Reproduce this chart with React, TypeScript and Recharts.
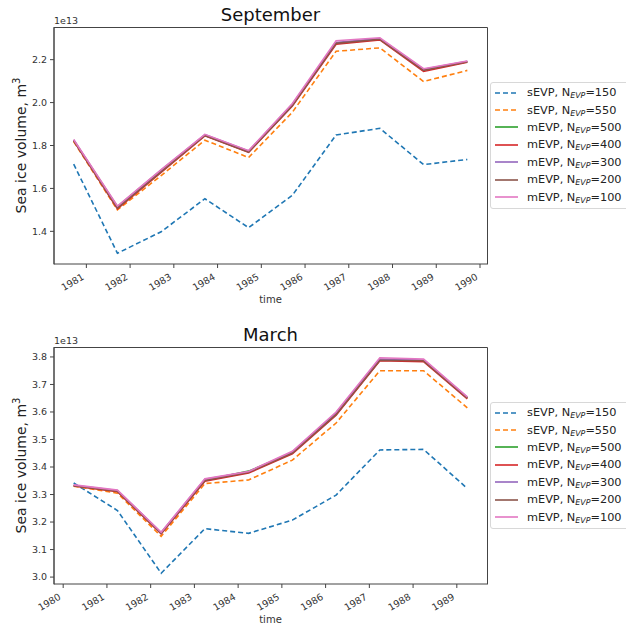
import React from "react";
import { LineChart, Line, XAxis, YAxis, Legend } from "recharts";

// time axis (decimal years) and tick labels
const sepTime = [1980.71, 1981.71, 1982.71, 1983.71, 1984.71, 1985.71, 1986.71, 1987.71, 1988.71, 1989.71];
const marTime = [1980.24, 1981.24, 1982.24, 1983.24, 1984.24, 1985.24, 1986.24, 1987.24, 1988.24, 1989.24];
const sepYearTicks = [1981, 1982, 1983, 1984, 1985, 1986, 1987, 1988, 1989, 1990];
const marYearTicks = [1980, 1981, 1982, 1983, 1984, 1985, 1986, 1987, 1988, 1989];
const sepValueTicks = [1.4, 1.6, 1.8, 2.0, 2.2];
const marValueTicks = [3.0, 3.1, 3.2, 3.3, 3.4, 3.5, 3.6, 3.7, 3.8];

// September sea ice volume, x1e13 m3
const sepS150 = [1.713, 1.298, 1.398, 1.552, 1.417, 1.568, 1.849, 1.88, 1.711, 1.735];
const sepS550 = [1.818, 1.5, 1.66, 1.825, 1.744, 1.955, 2.239, 2.255, 2.098, 2.15];
const sepM500 = [1.825, 1.515, 1.685, 1.848, 1.772, 1.99, 2.278, 2.296, 2.152, 2.19];
const sepM400 = [1.822, 1.505, 1.675, 1.845, 1.768, 1.984, 2.272, 2.292, 2.145, 2.188];
const sepM300 = [1.826, 1.512, 1.682, 1.85, 1.774, 1.992, 2.28, 2.298, 2.155, 2.192];
const sepM200 = [1.823, 1.508, 1.678, 1.847, 1.77, 1.987, 2.276, 2.295, 2.15, 2.19];
const sepM100 = [1.828, 1.518, 1.688, 1.852, 1.776, 1.996, 2.288, 2.302, 2.158, 2.194];

// March sea ice volume, x1e13 m3
const marS150 = [3.342, 3.242, 3.014, 3.176, 3.159, 3.207, 3.298, 3.462, 3.464, 3.322];
const marS550 = [3.33, 3.305, 3.148, 3.34, 3.353, 3.425, 3.56, 3.75, 3.75, 3.615];
const marM500 = [3.333, 3.313, 3.16, 3.352, 3.385, 3.452, 3.592, 3.789, 3.787, 3.651];
const marM400 = [3.331, 3.31, 3.157, 3.348, 3.378, 3.448, 3.588, 3.786, 3.783, 3.648];
const marM300 = [3.334, 3.315, 3.162, 3.356, 3.383, 3.455, 3.597, 3.792, 3.789, 3.653];
const marM200 = [3.332, 3.312, 3.159, 3.351, 3.381, 3.451, 3.591, 3.788, 3.786, 3.65];
const marM100 = [3.335, 3.316, 3.163, 3.357, 3.384, 3.457, 3.6, 3.797, 3.792, 3.655];

const seriesKeys = ["s150", "s550", "m500", "m400", "m300", "m200", "m100"];
const seriesScheme = ["sEVP", "sEVP", "mEVP", "mEVP", "mEVP", "mEVP", "mEVP"];
const seriesN = [150, 550, 500, 400, 300, 200, 100];
const seriesColors = ["#1f77b4", "#ff7f0e", "#2ca02c", "#d62728", "#9467bd", "#8c564b", "#e377c2"];
const seriesDash = ["5 3", "5 3", undefined, undefined, undefined, undefined, undefined];

const buildRows = (time: number[], cols: number[][]) =>
  time.map((t, i) => {
    const row: Record<string, number> = { t };
    seriesKeys.forEach((k, j) => (row[k] = cols[j][i]));
    return row;
  });

const sepData = buildRows(sepTime, [sepS150, sepS550, sepM500, sepM400, sepM300, sepM200, sepM100]);
const marData = buildRows(marTime, [marS150, marS550, marM500, marM400, marM300, marM200, marM100]);

const padDomain = (vals: number[], frac = 0.05): [number, number] => {
  const lo = Math.min(...vals);
  const hi = Math.max(...vals);
  const pad = (hi - lo) * frac;
  return [lo - pad, hi + pad];
};

const FONT = "'DejaVu Sans', sans-serif";
const AXIS = "#444";

const SlantTick = (props: any) => {
  const { x, y, payload } = props;
  return (
    <g transform={`translate(${x - 5},${y + 3})`}>
      <text x={0} y={0} dy="0.71em" textAnchor="end" transform="rotate(-30)" fontSize={9.5} fill="#333">
        {payload.value}
      </text>
    </g>
  );
};

// legend box runs past the right edge like the original; text itself stays inside
const LegendBox = () => (
  <div
    style={{
      border: "1px solid #d8d8d8",
      borderRadius: 3,
      background: "#fff",
      padding: "1px 0 2px 4px",
      fontFamily: FONT,
      fontSize: 11.3,
      color: "#222",
      width: 190,
    }}
  >
    {seriesKeys.map((k, i) => (
      <div key={k} style={{ display: "flex", alignItems: "center", height: 17.4 }}>
        <svg width={23} height={6}>
          <line x1={0} y1={3} x2={23} y2={3} stroke={seriesColors[i]} strokeWidth={1.6} strokeDasharray={seriesDash[i]} />
        </svg>
        <span style={{ marginLeft: 9, whiteSpace: "nowrap" }}>
          {seriesScheme[i]}, N
          <span style={{ fontStyle: "italic", fontSize: "0.7em", position: "relative", top: 2 }}>EVP</span>={seriesN[i]}
        </span>
      </div>
    ))}
  </div>
);

type PanelProps = {
  data: Record<string, number>[];
  time: number[];
  yearTicks: number[];
  valueTicks: number[];
  yDomain: [number, number];
  legendTop: number;
};

const Panel = ({ data, time, yearTicks, valueTicks, yDomain, legendTop }: PanelProps) => {
  const xDomain: [number, number] = [time[0] - 0.45, time[time.length - 1] + 0.45];
  return (
    <LineChart width={626} height={310} data={data} margin={{ top: 27, right: 139, left: 0, bottom: 0 }}>
      <XAxis
        dataKey="t"
        type="number"
        domain={xDomain}
        ticks={yearTicks}
        allowDataOverflow
        height={46}
        tick={<SlantTick />}
        tickSize={4}
        tickLine={{ stroke: AXIS }}
        axisLine={{ stroke: AXIS }}
        interval={0}
      />
      <YAxis
        type="number"
        domain={yDomain}
        ticks={valueTicks}
        allowDataOverflow
        width={54}
        tickSize={4}
        tickMargin={3}
        tickFormatter={(v: number) => v.toFixed(1)}
        tick={{ fontSize: 9.5, fill: "#333" }}
        tickLine={{ stroke: AXIS }}
        axisLine={{ stroke: AXIS }}
        interval={0}
      />
      <Legend
        layout="vertical"
        align="center"
        verticalAlign="middle"
        content={() => <LegendBox />}
        wrapperStyle={{ left: 490, top: legendTop, width: "auto", height: "auto" }}
      />
      {seriesKeys.map((k, i) => (
        <Line
          key={k}
          type="linear"
          dataKey={k}
          stroke={seriesColors[i]}
          strokeWidth={1.6}
          strokeDasharray={seriesDash[i]}
          dot={false}
          isAnimationActive={false}
        />
      ))}
    </LineChart>
  );
};

const TextLayer = ({ title, top }: { title: string; top: number }) => (
  <svg width={626} height={310} style={{ position: "absolute", left: 0, top, pointerEvents: "none" }} fontFamily={FONT}>
    {/* top and right spines */}
    <path d="M54,264.5 V27.5 H487.5 V264.5" fill="none" stroke={AXIS} strokeWidth={1} />
    <text x={270.5} y={21} textAnchor="middle" fontSize={18} fill="#111">
      {title}
    </text>
    <text x={54} y={24} fontSize={9.5} fill="#333">
      1e13
    </text>
    <text transform="translate(26,145.5) rotate(-90)" textAnchor="middle" fontSize={14} fill="#222">
      Sea ice volume, m<tspan dy={-6} fontSize={10}>3</tspan>
    </text>
    <text x={270.5} y={303} textAnchor="middle" fontSize={10} fill="#333">
      time
    </text>
  </svg>
);

const App = () => {
  const sepY = padDomain([...sepS150, ...sepS550, ...sepM500, ...sepM400, ...sepM300, ...sepM200, ...sepM100]);
  const marY = padDomain([...marS150, ...marS550, ...marM500, ...marM400, ...marM300, ...marM200, ...marM100]);
  return (
    <div style={{ position: "absolute", left: 0, top: 0, width: 626, height: 628, overflow: "hidden", background: "#fff", fontFamily: FONT }}>
      <div style={{ position: "absolute", left: 0, top: 0 }}>
        <Panel data={sepData} time={sepTime} yearTicks={sepYearTicks} valueTicks={sepValueTicks} yDomain={sepY} legendTop={82} />
      </div>
      <TextLayer title="September" top={0} />
      <div style={{ position: "absolute", left: 0, top: 320 }}>
        <Panel data={marData} time={marTime} yearTicks={marYearTicks} valueTicks={marValueTicks} yDomain={marY} legendTop={82} />
      </div>
      <TextLayer title="March" top={320} />
    </div>
  );
};

export default App;
